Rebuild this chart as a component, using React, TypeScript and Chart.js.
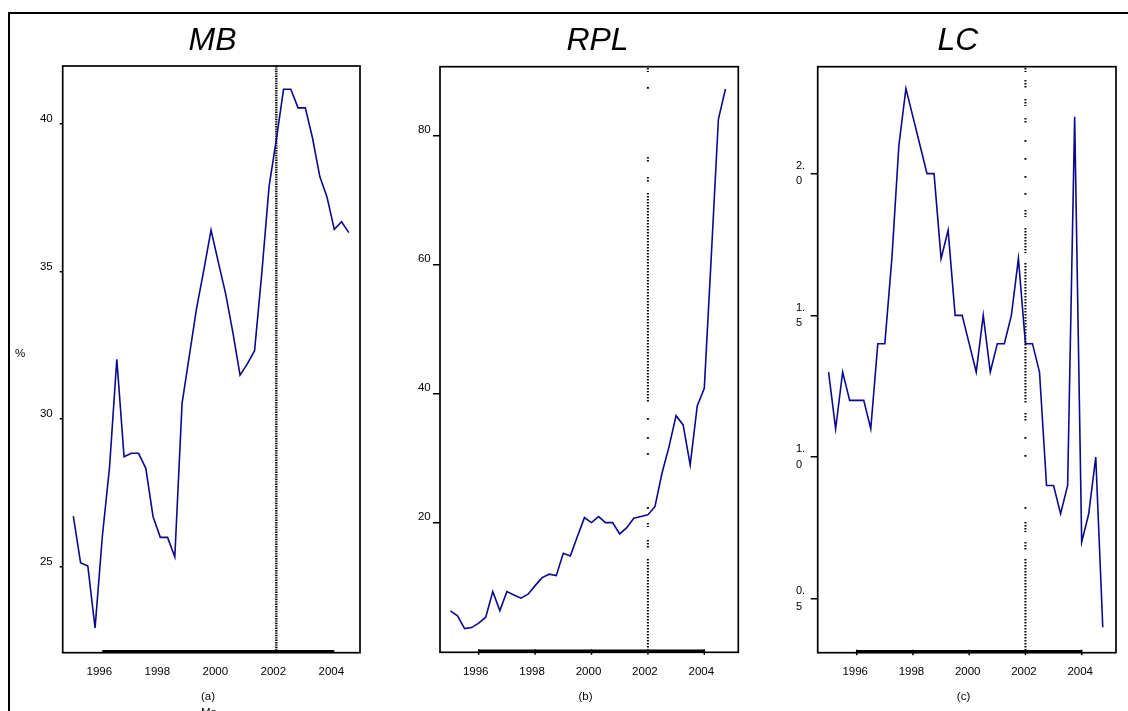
import React, { useEffect, useRef } from 'react';
import { Chart, registerables } from 'chart.js';

Chart.register(...registerables);

// ---------------- data ----------------
const QUARTERS = [
  '1995Q1', '1995Q2', '1995Q3', '1995Q4',
  '1996Q1', '1996Q2', '1996Q3', '1996Q4',
  '1997Q1', '1997Q2', '1997Q3', '1997Q4',
  '1998Q1', '1998Q2', '1998Q3', '1998Q4',
  '1999Q1', '1999Q2', '1999Q3', '1999Q4',
  '2000Q1', '2000Q2', '2000Q3', '2000Q4',
  '2001Q1', '2001Q2', '2001Q3', '2001Q4',
  '2002Q1', '2002Q2', '2002Q3', '2002Q4',
  '2003Q1', '2003Q2', '2003Q3', '2003Q4',
  '2004Q1', '2004Q2', '2004Q3', '2004Q4',
];

const YEAR_TICKS = [1996, 1998, 2000, 2002, 2004];
const BREAK_YEAR = 2002;

const MB_VALUES = [
  26.71, 25.13, 25.02, 22.92, 26.01, 28.38, 32.03, 28.72, 28.84, 28.84,
  28.33, 26.69, 25.99, 25.99, 25.33, 30.53, 32.14, 33.75, 35.05, 36.41,
  35.32, 34.26, 32.95, 31.49, 31.87, 32.32, 34.95, 37.88, 39.47, 41.18,
  41.18, 40.55, 40.55, 39.52, 38.22, 37.52, 36.43, 36.69, 36.32,
];
const RPL_VALUES = [
  6.41, 5.64, 3.67, 3.83, 4.51, 5.44, 9.4, 6.46, 9.4, 8.89,
  8.38, 9.0, 10.33, 11.57, 12.1, 11.88, 15.35, 14.94, 17.93, 20.87,
  20.1, 21.03, 20.1, 20.1, 18.34, 19.32, 20.78, 21.03, 21.29, 22.57,
  27.75, 31.87, 36.67, 35.23, 29.03, 38.17, 40.92, 61.5, 82.59, 87.28,
];
const LC_VALUES = [
  1.3, 1.1, 1.3, 1.2, 1.2, 1.2, 1.1, 1.4, 1.4, 1.7,
  2.1, 2.3, 2.2, 2.1, 2.0, 2.0, 1.7, 1.8, 1.5, 1.5,
  1.4, 1.3, 1.5, 1.3, 1.4, 1.4, 1.5, 1.7, 1.4, 1.4,
  1.3, 0.9, 0.9, 0.8, 0.9, 2.2, 0.7, 0.8, 1.0, 0.4,
];

const MB_TICKS = [25, 30, 35, 40];
const RPL_TICKS = [20, 40, 60, 80];
const LC_TICKS = [0.5, 1.0, 1.5, 2.0];

// ---------------- styling ----------------
const FONT = '"Liberation Sans", Arial, Helvetica, sans-serif';
const LINE_COLOR = '#0a0a8c';

const quarterToX = (q: string) => Number(q.slice(0, 4)) + (Number(q.slice(5)) - 1) / 4;

// dotted break-line pattern: runs of dots (absolute canvas y)
function buildDash(runs: number[][], top: number, on: number, off: number) {
  const segs: number[][] = [];
  for (const [a, b] of runs) {
    if (b - a <= 3) segs.push([a, a + 1.8]);
    else for (let y = a; y < b; y += on + off) segs.push([y, Math.min(y + on, b)]);
  }
  const pat: number[] = [];
  if (segs[0][0] > top) pat.push(0, segs[0][0] - top);
  segs.forEach(([s, e], i) => {
    pat.push(Math.max(0.1, e - s));
    const next = i + 1 < segs.length ? segs[i + 1][0] : e + 3000;
    pat.push(Math.max(0.1, next - e));
  });
  return pat;
}

const RPL_DOT_RUNS = [
  [68, 72], [87, 89], [157, 163], [177, 182], [193, 403], [418, 419], [437, 438],
  [453, 456], [507, 510], [523, 527], [540, 548], [559, 652],
];
const LC_DOT_RUNS = [
  [68, 72], [80, 88], [99, 106], [118, 124], [140, 141], [158, 159], [176, 177],
  [193, 194], [210, 217], [228, 253], [263, 403], [413, 422], [437, 438], [455, 456],
  [507, 510], [522, 532], [542, 550], [559, 652],
];

type PanelCfg = {
  id: string;
  left: number;
  values: number[];
  xMin: number; xMax: number;
  yMin: number; yMax: number;
  yTicks: number[];
  fmt: (v: number) => string | string[];
  pad: { left: number; right: number; top: number; bottom: number };
  yWidth: number;
  tickLen: number;
  tickPad: number;
  labelOffset: number;
  xLabelOffset: number;
  crossAlign: 'near' | 'far';
  yFont: { size: number; lineHeight?: number };
  title: string; titleX: number;
  caption: string; captionX: number;
  dash: number[]; dashWidth: number;
  frameLeft: boolean;
  stubs: boolean;
  extraTexts: { text: string; x: number; y: number }[];
};

const PANELS: PanelCfg[] = [
  {
    id: 'mb', left: 0, values: MB_VALUES,
    xMin: 1994.634, xMax: 2004.886, yMin: 22.08, yMax: 41.97,
    yTicks: MB_TICKS, fmt: (v) => String(v),
    pad: { left: 12.7, right: 16, top: 66, bottom: 18.3 },
    yWidth: 50, tickLen: 3, tickPad: 7, labelOffset: -5, xLabelOffset: -3,
    crossAlign: 'near', yFont: { size: 11.5 },
    title: 'MB', titleX: 212.5, caption: '(a)', captionX: 208,
    dash: [1.4, 1.0], dashWidth: 2.4, frameLeft: true, stubs: false,
    extraTexts: [{ text: '%', x: 20, y: 354 }, { text: 'Ma', x: 209, y: 713 }],
  },
  {
    id: 'rpl', left: 376, values: RPL_VALUES,
    xMin: 1994.628, xMax: 2005.206, yMin: 0, yMax: 90.74,
    yTicks: RPL_TICKS, fmt: (v) => String(v),
    pad: { left: 14, right: 13.7, top: 66.7, bottom: 18.7 },
    yWidth: 50, tickLen: 7, tickPad: 2.3, labelOffset: -6, xLabelOffset: -3,
    crossAlign: 'near', yFont: { size: 11.5 },
    title: 'RPL', titleX: 221.5, caption: '(b)', captionX: 209.5,
    dash: buildDash(RPL_DOT_RUNS, 66.7, 1.5, 1.5), dashWidth: 2, frameLeft: false, stubs: true,
    extraTexts: [],
  },
  {
    id: 'lc', left: 752, values: LC_VALUES,
    xMin: 1994.613, xMax: 2005.22, yMin: 0.31, yMax: 2.377,
    yTicks: LC_TICKS, fmt: (v) => { const s = v.toFixed(1); return [s.slice(0, 2), s.slice(2)]; },
    pad: { left: 44, right: 12, top: 66.7, bottom: 18.3 },
    yWidth: 21.7, tickLen: 7, tickPad: 0, labelOffset: 0, xLabelOffset: -1.5,
    crossAlign: 'far', yFont: { size: 11, lineHeight: 1.4 },
    title: 'LC', titleX: 206, caption: '(c)', captionX: 211.5,
    dash: buildDash(LC_DOT_RUNS, 66.7, 1.5, 1.5), dashWidth: 2, frameLeft: false, stubs: true,
    extraTexts: [],
  },
];

function decorPlugin(p: PanelCfg) {
  return {
    id: 'decor-' + p.id,
    afterDraw(chart: any) {
      const { ctx, chartArea: a, scales } = chart;
      const xs = scales.x;
      ctx.save();
      ctx.strokeStyle = '#000';
      ctx.fillStyle = '#000';
      // plot box
      ctx.lineWidth = 1.7;
      ctx.strokeRect(a.left, a.top, a.right - a.left, a.bottom - a.top);
      // thick axis line between first and last year tick
      const x0 = xs.getPixelForValue(YEAR_TICKS[0]);
      const x1 = xs.getPixelForValue(YEAR_TICKS[YEAR_TICKS.length - 1]);
      ctx.lineWidth = 3;
      ctx.beginPath();
      ctx.moveTo(x0, a.bottom - 1.3);
      ctx.lineTo(x1, a.bottom - 1.3);
      ctx.stroke();
      if (p.stubs) {
        ctx.lineWidth = 1.5;
        for (const t of YEAR_TICKS) {
          const px = xs.getPixelForValue(t);
          ctx.beginPath();
          ctx.moveTo(px, a.bottom - 3);
          ctx.lineTo(px, a.bottom + 2.5);
          ctx.stroke();
        }
      }
      // outer frame
      ctx.lineWidth = 2;
      ctx.beginPath();
      ctx.moveTo(p.frameLeft ? 8 : 0, 13);
      ctx.lineTo(chart.width, 13);
      ctx.stroke();
      if (p.frameLeft) {
        ctx.beginPath();
        ctx.moveTo(9, 12);
        ctx.lineTo(9, chart.height);
        ctx.stroke();
      }
      // title
      ctx.font = `italic 32px ${FONT}`;
      ctx.textAlign = 'center';
      ctx.textBaseline = 'alphabetic';
      ctx.fillText(p.title, p.titleX, 50);
      // caption
      ctx.font = `11.5px ${FONT}`;
      ctx.textBaseline = 'middle';
      ctx.fillText(p.caption, p.captionX, 697);
      for (const t of p.extraTexts) ctx.fillText(t.text, t.x, t.y);
      ctx.restore();
    },
  };
}

function buildConfig(p: PanelCfg): any {
  const xVals = QUARTERS.map(quarterToX);
  return {
    type: 'line',
    data: {
      datasets: [
        {
          data: p.values.map((v, i) => ({ x: xVals[i], y: v })),
          borderColor: LINE_COLOR,
          borderWidth: 1.6,
          pointRadius: 0,
          tension: 0,
          fill: false,
        },
        {
          data: [{ x: BREAK_YEAR, y: p.yMax }, { x: BREAK_YEAR, y: p.yMin }],
          borderColor: '#000',
          borderWidth: p.dashWidth,
          borderDash: p.dash,
          pointRadius: 0,
          tension: 0,
          fill: false,
        },
      ],
    },
    options: {
      responsive: false,
      animation: false,
      devicePixelRatio: 1,
      events: [],
      layout: { padding: p.pad },
      plugins: { legend: { display: false }, tooltip: { enabled: false }, title: { display: false } },
      scales: {
        x: {
          type: 'linear',
          min: p.xMin,
          max: p.xMax,
          afterBuildTicks: (s: any) => { s.ticks = YEAR_TICKS.map((v) => ({ value: v })); },
          afterFit: (s: any) => { s.height = 40; },
          grid: { display: false, drawTicks: false, tickLength: 0 },
          border: { display: false },
          ticks: {
            padding: 12.7,
            color: '#000',
            font: { family: FONT, size: 11.5 },
            maxRotation: 0,
            autoSkip: false,
            labelOffset: p.xLabelOffset,
            callback: (v: number) => String(v),
          },
        },
        y: {
          type: 'linear',
          min: p.yMin,
          max: p.yMax,
          afterBuildTicks: (s: any) => { s.ticks = p.yTicks.map((v) => ({ value: v })); },
          afterFit: (s: any) => { s.width = p.yWidth; },
          grid: {
            display: true,
            drawOnChartArea: false,
            drawTicks: true,
            tickLength: p.tickLen,
            color: '#000',
            lineWidth: 1.5,
          },
          border: { display: false },
          ticks: {
            padding: p.tickPad,
            color: '#000',
            crossAlign: p.crossAlign,
            labelOffset: p.labelOffset,
            autoSkip: false,
            font: { family: FONT, ...p.yFont },
            callback: (v: number) => p.fmt(v),
          },
        },
      },
    },
    plugins: [decorPlugin(p)],
  };
}

function Panel({ cfg }: { cfg: PanelCfg }) {
  const ref = useRef<HTMLCanvasElement>(null);
  useEffect(() => {
    const chart = new Chart(ref.current as HTMLCanvasElement, buildConfig(cfg));
    return () => chart.destroy();
  }, [cfg]);
  return (
    <canvas
      ref={ref}
      width={376}
      height={711}
      style={{ position: 'absolute', left: cfg.left, top: 0, width: 376, height: 711 }}
    />
  );
}

export default function App() {
  return (
    <div
      style={{
        position: 'fixed',
        left: 0,
        top: 0,
        width: 1128,
        height: 711,
        overflow: 'hidden',
        background: '#fff',
      }}
    >
      {PANELS.map((p) => (
        <Panel key={p.id} cfg={p} />
      ))}
    </div>
  );
}
